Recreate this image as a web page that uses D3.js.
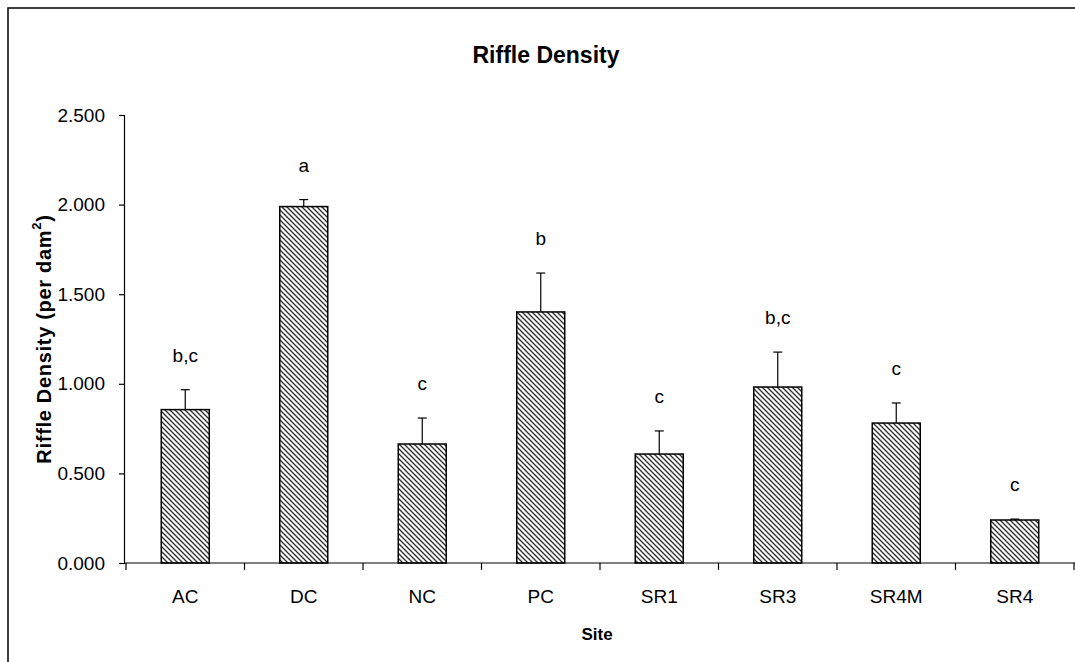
<!DOCTYPE html>
<html><head><meta charset="utf-8">
<script src="https://cdn.jsdelivr.net/npm/d3@7/dist/d3.min.js"></script>
<style>body{margin:0;background:#fff;}svg{display:block;font-family:"Liberation Sans",Arial,sans-serif;}</style>
</head><body>
<svg id="c" width="1075" height="662"></svg>
<script>
const categories = ["AC","DC","NC","PC","SR1","SR3","SR4M","SR4"];
const means = [0.856, 1.989, 0.664, 1.401, 0.608, 0.982, 0.781, 0.240];
const errUpper = [0.967, 2.028, 0.809, 1.618, 0.737, 1.177, 0.893, 0.245];
const sigLetters = ["b,c","a","c","b","c","b,c","c","c"];
const yTicks = [0, 0.5, 1.0, 1.5, 2.0, 2.5];

const svg = d3.select("#c");
const defs = svg.append("defs");
const pat = defs.append("pattern").attr("id","hatch").attr("patternUnits","userSpaceOnUse")
  .attr("width",5).attr("height",5);
pat.append("rect").attr("width",5).attr("height",5).attr("fill","#fff");
pat.append("path").attr("d","M-1,-1 L6,6 M-1,4 L1,6 M4,-1 L6,1")
  .attr("stroke","#333").attr("stroke-width",1.4);

// frame
svg.append("rect").attr("x",8).attr("y",8).attr("width",1200).attr("height",800)
  .attr("fill","none").attr("stroke","#000").attr("stroke-width",1.5);

const x = d3.scaleBand().domain(categories).range([126,1074]).padding(0);
const y = d3.scaleLinear().domain([0,2.5]).range([563,115]);
const bw = x.bandwidth()*0.405;

// bars
const g = svg.append("g");
categories.forEach((c,i)=>{
  const cx = x(c)+x.bandwidth()/2;
  g.append("line").attr("x1",cx).attr("x2",cx).attr("y1",y(means[i])).attr("y2",y(errUpper[i]))
    .attr("stroke","#000").attr("stroke-width",1.2);
  g.append("line").attr("x1",cx-4.5).attr("x2",cx+4.5).attr("y1",y(errUpper[i])).attr("y2",y(errUpper[i]))
    .attr("stroke","#000").attr("stroke-width",1.2);
  g.append("rect").attr("x",cx-bw/2).attr("y",y(means[i])).attr("width",bw)
    .attr("height",y(0)-y(means[i])).attr("fill","url(#hatch)").attr("stroke","#000").attr("stroke-width",1.5);
  g.append("text").attr("x",cx).attr("y",y(errUpper[i])-28).attr("text-anchor","middle")
    .attr("font-size",19).text(sigLetters[i]);
});

// y axis
const yAxis = d3.axisLeft(y).tickValues(yTicks).tickFormat(d3.format(".3f")).tickSize(6).tickPadding(14);
const ya = svg.append("g").attr("transform","translate(125,0)").call(yAxis);
ya.select(".domain").attr("stroke","#000").attr("stroke-width",1.2).attr("d","M-0.5,115V563");
ya.selectAll(".tick line").attr("stroke","#000").attr("stroke-width",1.2);
ya.selectAll("text").attr("font-size",19).attr("font-family","Liberation Sans, Arial, sans-serif").attr("fill","#000");

// x axis
const xAxis = d3.axisBottom(x).tickSize(0).tickPadding(27);
const xa = svg.append("g").attr("transform","translate(0,563)").call(xAxis);
xa.select(".domain").attr("stroke","#000").attr("stroke-width",1.2).attr("d","M125,0H1075");
xa.selectAll("text").attr("font-size",19).attr("font-family","Liberation Sans, Arial, sans-serif").attr("fill","#000");
const edges = categories.map(c=>x(c)).concat([x(categories[categories.length-1])+x.bandwidth()]);
xa.selectAll(".edge").data(edges).enter().append("line").attr("class","edge")
  .attr("x1",d=>d).attr("x2",d=>d).attr("y1",0).attr("y2",7).attr("stroke","#000").attr("stroke-width",1.2);

// titles
svg.append("text").attr("x",546).attr("y",63).attr("text-anchor","middle")
  .attr("font-size",23).attr("font-weight","bold").text("Riffle Density");
svg.append("text").attr("x",597).attr("y",640).attr("text-anchor","middle")
  .attr("font-size",17).attr("font-weight","bold").text("Site");
const yt = svg.append("text").attr("transform","translate(51,339) rotate(-90)").attr("text-anchor","middle")
  .attr("font-size",20).attr("font-weight","bold").attr("letter-spacing",0.7);
yt.append("tspan").text("Riffle Density (per dam");
yt.append("tspan").attr("font-size",13).attr("dy",-10).text("2");
yt.append("tspan").attr("dy",10).text(")");
</script>
</body></html>
